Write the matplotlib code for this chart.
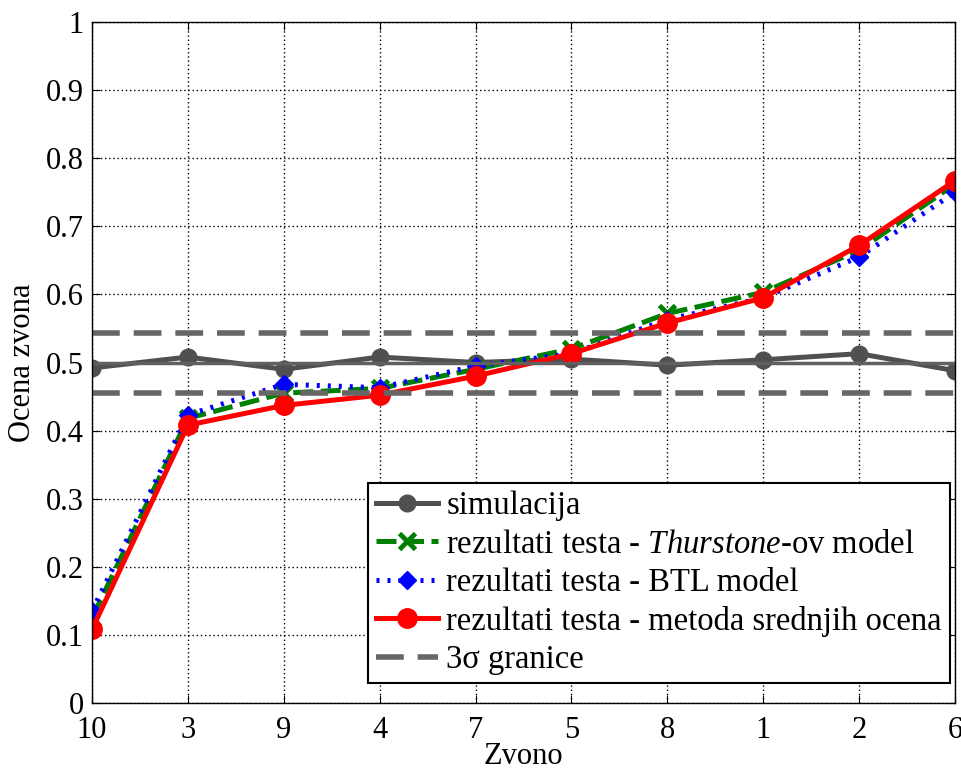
import numpy as np
import matplotlib.pyplot as plt

plt.rcParams['font.family'] = ['Liberation Serif', 'DejaVu Serif']
plt.rcParams['mathtext.fontset'] = 'custom'
plt.rcParams['mathtext.it'] = 'Liberation Serif:italic'

#----------------------------------------------------------------------data
zvona = ['10', '3', '9', '4', '7', '5', '8', '1', '2', '6']
simulacija = [0.492, 0.508, 0.490, 0.508, 0.500, 0.505, 0.496, 0.504, 0.513, 0.488]
thurstone = [0.125, 0.418, 0.455, 0.462, 0.490, 0.520, 0.572, 0.603, 0.665, 0.762]
btl = [0.135, 0.423, 0.468, 0.463, 0.495, 0.513, 0.563, 0.595, 0.655, 0.750]
srednje = [0.108, 0.408, 0.437, 0.452, 0.480, 0.513, 0.558, 0.595, 0.672, 0.767]
sredina = 0.5
granice = [0.455, 0.544]

x = np.arange(len(zvona)) + 1

fig = plt.figure(figsize=(9.62, 7.72), dpi=100)
ax = fig.add_axes([92/962, 1-703/772, (955-92)/962, (703-22)/772])

ax.plot(x, simulacija, color='#505050', lw=3.6, marker='o', ms=12,
        label='simulacija')
ax.plot(x, thurstone, color='#008000', lw=3.6, ls=(0, (4, 1.5)), marker='x',
        ms=12, mew=3.5, label='rezultati testa - $\\mathit{Thurstone}$-ov model')
ax.plot(x, btl, color='#0000ff', lw=3.6, ls=(0, (0.6, 1.6)), marker='D',
        ms=9, label='rezultati testa - BTL model')
ax.plot(x, srednje, color='#ff0000', lw=3.6, marker='o', ms=14,
        label='rezultati testa - metoda srednjih ocena')
ax.plot([x[0], x[-1]], [sredina, sredina], color='#606060', lw=2.5)
ax.plot([x[0], x[-1]], [granice[0]]*2, color='#666666', lw=4,
        ls=(0, (5, 2.5)), label='3σ granice')
ax.plot([x[0], x[-1]], [granice[1]]*2, color='#666666', lw=4,
        ls=(0, (5, 2.5)))

ax.set_xlim(x[0], x[-1])
ax.set_ylim(0, 1)
ax.set_xticks(x)
ax.set_xticklabels(zvona)
ax.set_yticks(np.arange(0, 1.01, 0.1))
ax.set_yticklabels(['0', '0.1', '0.2', '0.3', '0.4', '0.5', '0.6', '0.7',
                    '0.8', '0.9', '1'])
ax.tick_params(labelsize=22, direction='in', length=6, color='black',
               top=True, right=True)
ax.tick_params(axis='x', pad=9)
ax.tick_params(axis='y', pad=6)
ax.grid(True, color='black', ls=(0, (1, 2)), lw=1)
for s in ax.spines.values():
    s.set_color('black')
    s.set_linewidth(1)

ax.set_xlabel('Zvono', fontsize=22, labelpad=-2)
ax.set_ylabel('Ocena zvona', fontsize=22, labelpad=6)

leg = ax.legend(loc='lower right', bbox_to_anchor=(0.994, 0.029),
                fontsize=23.5, fancybox=False, edgecolor='black',
                framealpha=1, handlelength=1.9, borderaxespad=0,
                labelspacing=0.24, handletextpad=0.25, borderpad=0.25)
leg.get_frame().set_linewidth(1.5)

fig.savefig('out.png', dpi=100)
